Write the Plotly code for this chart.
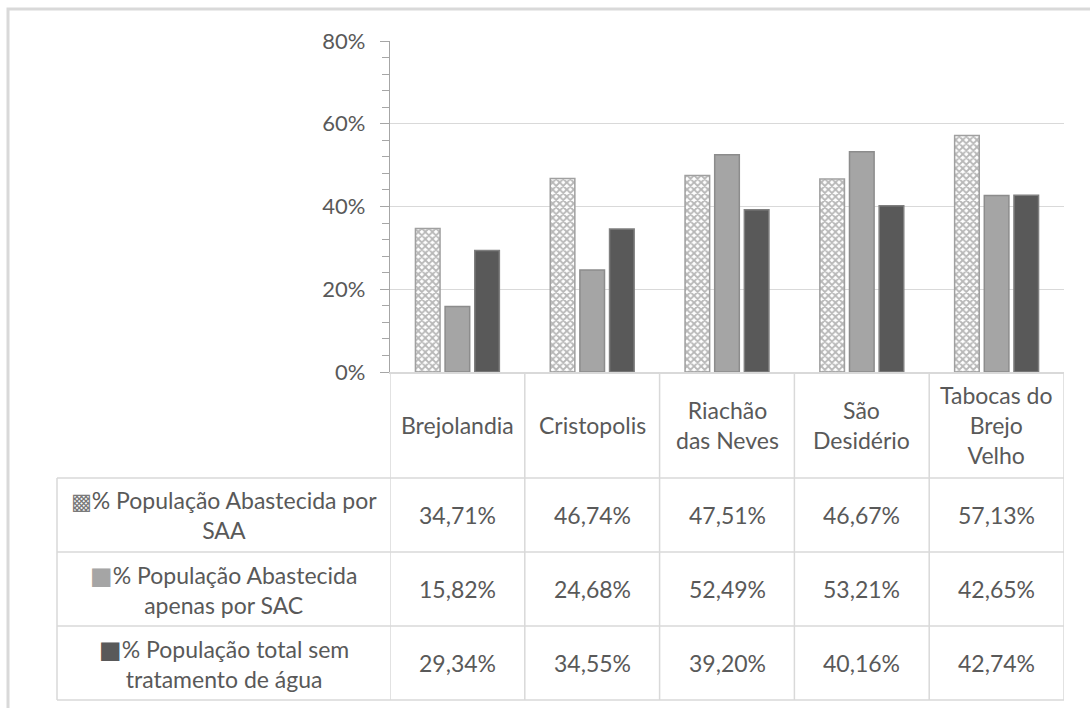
import plotly.graph_objects as go

# Municipalities (categories) and the three indicators, in percent
municipios = ["Brejolandia", "Cristopolis", "Riachão das Neves", "São Desidério", "Tabocas do Brejo Velho"]
cabecalhos = ["Brejolandia", "Cristopolis", "Riachão<br>das Neves", "São<br>Desidério", "Tabocas do<br>Brejo<br>Velho"]

series_nomes = [
    "% População Abastecida por<br>SAA",
    "% População Abastecida<br>apenas por SAC",
    "% População total sem<br>tratamento de água",
]
pop_saa = [34.71, 46.74, 47.51, 46.67, 57.13]
pop_sac = [15.82, 24.68, 52.49, 53.21, 42.65]
pop_sem_trat = [29.34, 34.55, 39.20, 40.16, 42.74]

y_ticks = [0, 20, 40, 60, 80]
y_ticktext = [f"{v}%" for v in y_ticks]

# ---- layout geometry (pixels) ----
W, H = 1090, 708
L, R, T, B = 390, 26, 41, 336
PW, PH = W - L - R, H - T - B
Y0 = H - B  # pixel row of the 0% line

def px(x):
    return (x - L) / PW

def py(y):
    return (Y0 - y) / PH

TXT = "#595959"
GRID = "#d9d9d9"
AXIS = "#a6a6a6"
FONT = "Lato, DejaVu Sans, sans-serif"

fig = go.Figure()

fig.add_trace(go.Bar(
    x=municipios, y=pop_saa, name="SAA",
    marker=dict(color="white", line=dict(color="#a0a0a0", width=1.5),
                pattern=dict(shape="x", size=5, solidity=0.6, fgcolor="#707070", bgcolor="white")),
))
fig.add_trace(go.Bar(
    x=municipios, y=pop_sac, name="SAC",
    marker=dict(color="#a5a5a5", line=dict(color="#8c8c8c", width=1.5)),
))
fig.add_trace(go.Bar(
    x=municipios, y=pop_sem_trat, name="sem tratamento",
    marker=dict(color="#595959", line=dict(color="#7f7f7f", width=1.5)),
))

shapes = []
line_style = dict(color=GRID, width=1.5)

# outer chart frame
shapes.append(dict(type="rect", xref="paper", yref="paper",
                   x0=px(8), y0=py(9), x1=px(1100), y1=py(720),
                   line=dict(color=GRID, width=3), fillcolor="rgba(0,0,0,0)"))

# data table: column separators aligned with the category slots
for k in range(len(municipios) + 1):
    shapes.append(dict(type="line", xref="x", yref="paper",
                       x0=k - 0.5, x1=k - 0.5, y0=py(Y0), y1=py(700), line=line_style))
# row separators
for yr in [478, 552, 626, 700]:
    shapes.append(dict(type="line", xref="paper", yref="paper",
                       x0=px(57), x1=px(1064), y0=py(yr), y1=py(yr), line=line_style))
shapes.append(dict(type="line", xref="paper", yref="paper",
                   x0=px(57), x1=px(57), y0=py(478), y1=py(700), line=line_style))

annotations = []
tfont = dict(family=FONT, size=23, color=TXT)

# header row with municipality names
for i, h in enumerate(cabecalhos):
    annotations.append(dict(x=i, y=py(425), xref="x", yref="paper", text=h,
                            showarrow=False, font=tfont, align="center",
                            xanchor="center", yanchor="middle"))

keys = [
    '<span style="color:#7a7a7a;font-size:22px">▩</span>',
    '<span style="color:#a5a5a5;font-size:24px">■</span>',
    '<span style="color:#595959;font-size:24px">■</span>',
]
row_centers = [515, 589, 663]
for r, (nome, vals) in enumerate(zip(series_nomes, [pop_saa, pop_sac, pop_sem_trat])):
    yc = py(row_centers[r])
    annotations.append(dict(x=px(223.5), y=yc, xref="paper", yref="paper",
                            text=keys[r] + nome, showarrow=False, font=tfont,
                            align="center", xanchor="center", yanchor="middle"))
    for i, v in enumerate(vals):
        annotations.append(dict(x=i, y=yc, xref="x", yref="paper",
                                text=f"{v:.2f}".replace(".", ",") + "%",
                                showarrow=False, font=tfont,
                                xanchor="center", yanchor="middle"))

fig.update_layout(
    width=W, height=H,
    margin=dict(l=L, r=R, t=T, b=B, autoexpand=False),
    paper_bgcolor="white", plot_bgcolor="white",
    barmode="group", bargap=0.34, bargroupgap=0.17,
    showlegend=False,
    shapes=shapes, annotations=annotations,
    xaxis=dict(range=[-0.5, 4.5], showticklabels=False, ticks="",
               showline=True, linecolor=GRID, linewidth=1.5,
               showgrid=False, zeroline=False, fixedrange=True),
    yaxis=dict(range=[0, 80], tickmode="array", tickvals=y_ticks, ticktext=y_ticktext,
               showline=True, linecolor=AXIS, linewidth=1.2,
               ticks="outside", ticklen=9, tickcolor=AXIS, tickwidth=1.2,
               minor=dict(dtick=4, ticks="outside", ticklen=7, tickcolor=AXIS, tickwidth=1.2, showgrid=False),
               showgrid=True, gridcolor=GRID, gridwidth=1.2, zeroline=False,
               tickfont=dict(family=FONT, size=22, color=TXT),
               ticklabelstandoff=10),
    yaxis2=dict(range=[0, 80], tickvals=y_ticks, overlaying="y", side="left",
                showticklabels=False, ticks="inside", ticklen=9,
                tickcolor=AXIS, tickwidth=1.2, showgrid=False, showline=False,
                zeroline=False),
)

fig.write_html("out.html")
